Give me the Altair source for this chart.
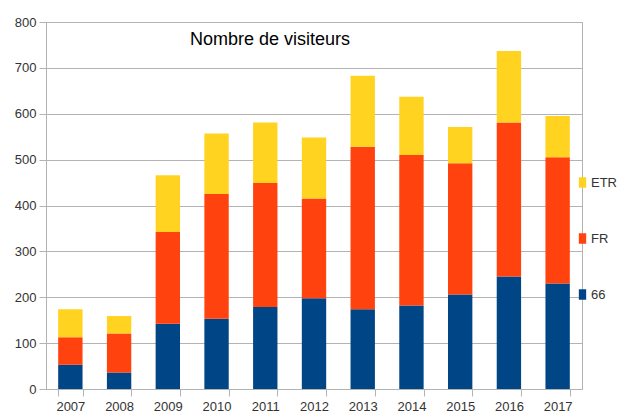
import altair as alt
import pandas as pd

years = ["2007", "2008", "2009", "2010", "2011", "2012", "2013", "2014", "2015", "2016", "2017"]
v66 = [53, 36, 142, 153, 179, 198, 174, 182, 206, 245, 230]
vFR = [60, 85, 200, 272, 270, 217, 354, 328, 286, 336, 275]
vETR = [61, 38, 124, 132, 132, 133, 155, 127, 79, 156, 90]
series = ["ETR", "FR", "66"]
colors = ["#ffd320", "#ff420e", "#004586"]
stack_rank = {"66": 0, "FR": 1, "ETR": 2}

rows = []
for i, y in enumerate(years):
    for name, vals in (("66", v66), ("FR", vFR), ("ETR", vETR)):
        rows.append({"year": y, "serie": name, "value": vals[i], "rank": stack_rank[name]})
df = pd.DataFrame(rows)

FONT = "Liberation Sans"

chart = alt.Chart(df).mark_bar().encode(
    x=alt.X("year:N", title=None, sort=years,
            scale=alt.Scale(paddingInner=0.5, paddingOuter=0.25),
            axis=alt.Axis(labelAngle=0, tickBand="extent", tickSize=7,
                          domainColor="#b3b3b3", tickColor="#b3b3b3",
                          labelFont=FONT, labelFontSize=13, labelColor="#333333",
                          labelPadding=4)),
    y=alt.Y("value:Q", title=None, stack="zero",
            scale=alt.Scale(domain=[0, 800], nice=False),
            axis=alt.Axis(values=list(range(0, 801, 100)), tickSize=7,
                          gridColor="#b3b3b3", domainColor="#b3b3b3", tickColor="#b3b3b3",
                          labelFont=FONT, labelFontSize=13, labelColor="#333333",
                          labelPadding=3)),
    color=alt.Color("serie:N", scale=alt.Scale(domain=series, range=colors),
                    legend=alt.Legend(title=None, orient="none", legendX=530, legendY=154,
                                      padding=0,
                                      symbolType="M-0.7,-1H0.7V1H-0.7Z",
                                      symbolSize=110, symbolStrokeWidth=0,
                                      rowPadding=42, labelFont=FONT, labelFontSize=13,
                                      labelColor="#333333", labelOffset=2)),
    order=alt.Order("rank:Q", sort="ascending"),
).properties(
    width=536, height=367,
    title=alt.TitleParams("Nombre de visiteurs", anchor="start", frame="group",
                          font=FONT, fontSize=18, fontWeight="normal", color="#000000",
                          baseline="top", dx=144, dy=33, offset=0),
    autosize=alt.AutoSizeParams(type="none"),
    padding={"left": 38, "top": 14, "right": 36, "bottom": 27},
).configure_view(stroke="#b3b3b3")

chart.save("out.html", embed_options={"renderer": "svg", "actions": False})
